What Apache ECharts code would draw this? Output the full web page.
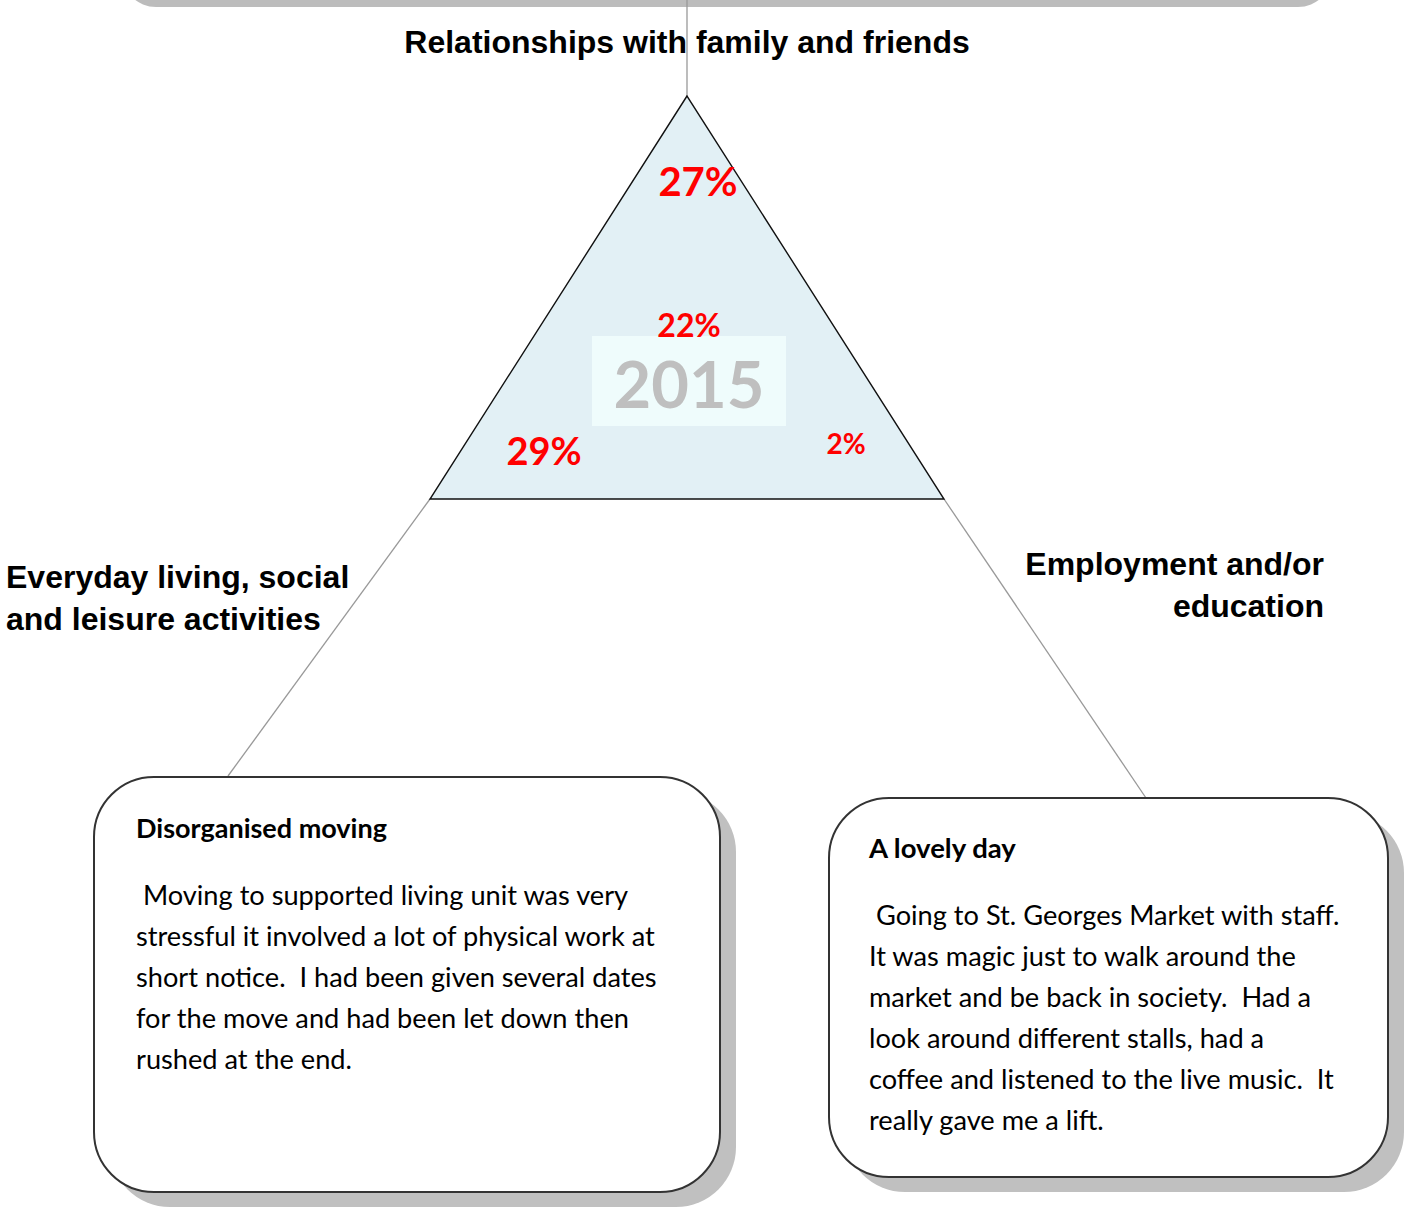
<!DOCTYPE html>
<html>
<head>
<meta charset="utf-8">
<title>2015</title>
<script src="https://cdn.jsdelivr.net/npm/echarts@6/dist/echarts.min.js"></script>
<style>
    html, body { margin: 0; padding: 0; background: #fff; }
    #chart { width: 1404px; height: 1207px; }
</style>
</head>
<body>
<div id="chart"></div>
<script>
    // data
    var year = '2015';
    var domains = ['Relationships with family and friends', 'Everyday living, social\nand leisure activities', 'Employment and/or\neducation'];
    var shares = [27, 22, 29, 2]; // top, centre, left, right
    var storyTitles = ['Disorganised moving', 'A lovely day'];
    var storyLines = [
        [' Moving to supported living unit was very',
            'stressful it involved a lot of physical work at',
            'short notice.  I had been given several dates',
            'for the move and had been let down then',
            'rushed at the end.'],
        [' Going to St. Georges Market with staff.',
            'It was magic just to walk around the',
            'market and be back in society.  Had a',
            'look around different stalls, had a',
            'coffee and listened to the live music.  It',
            'really gave me a lift.']
    ];

    // layout, page units (x right, y down)
    var triangle = [[687, 96], [430, 499], [944, 499]];
    var yearBox = [592, 336, 786, 426];
    var shareSpots = [[698, 181], [689, 324], [544, 450], [846, 443]];
    var shareSizes = [40, 32, 38, 28];
    var domainSpots = [[687, 42, 'center'], [6, 598, 'left'], [1324, 585, 'right']];
    var leaders = [[687, 0, 687, 96], [430, 499, 228, 776], [944, 499, 1146, 798]];
    var boxes = [[94, 777, 720, 1192], [829, 798, 1388, 1177]];
    var boxText = [[136, 827, 874], [869, 847, 894]];
    var titleSizes = [27, 27.5];

    var LABEL_FONT = '"Liberation Sans", Arial, sans-serif';
    var BODY_FONT = 'Lato, Calibri, sans-serif';

    var chart = echarts.init(document.getElementById('chart'), null, {renderer: 'svg'});

    var texts = [];
    domains.forEach(function (d, i) {
        texts.push({x: domainSpots[i][0], y: domainSpots[i][1], text: d, size: 32, weight: 'bold',
            family: LABEL_FONT, color: '#000', align: domainSpots[i][2], va: 'middle', lh: 42});
    });
    shares.forEach(function (v, i) {
        texts.push({x: shareSpots[i][0], y: shareSpots[i][1], text: v + '%', size: shareSizes[i], weight: 'bold',
            family: BODY_FONT, color: '#ff0000', align: 'center', va: 'middle'});
    });
    texts.push({x: (yearBox[0] + yearBox[2]) / 2, y: (yearBox[1] + yearBox[3]) / 2 + 2, text: year, size: 65,
        weight: 'bold', family: BODY_FONT, color: '#bfbfbf', align: 'center', va: 'middle'});
    storyTitles.forEach(function (t, i) {
        texts.push({x: boxText[i][0], y: boxText[i][1], text: t, size: titleSizes[i], weight: 'bold',
            family: BODY_FONT, color: '#000', align: 'left', va: 'middle'});
        texts.push({x: boxText[i][0], y: boxText[i][2], text: storyLines[i].join('\n'), size: 27.2, weight: 'normal',
            family: BODY_FONT, color: '#000', align: 'left', va: 'top', lh: 41});
    });

    chart.setOption({
        animation: false,
        grid: {left: 0, right: 0, top: 0, bottom: 0},
        xAxis: {type: 'value', min: 0, max: 1404, show: false},
        yAxis: {type: 'value', min: 0, max: 1207, inverse: true, show: false},
        series: [
            {
                // shadow of the box above, cut by the page edge
                type: 'custom',
                data: [[122, -120, 1332, 7]],
                renderItem: function (params, api) {
                    var a = api.coord([api.value(0), api.value(1)]);
                    var b = api.coord([api.value(2), api.value(3)]);
                    return {type: 'rect', shape: {x: a[0], y: a[1], width: b[0] - a[0], height: b[1] - a[1], r: 34},
                        style: {fill: '#bcbcbc'}};
                }
            },
            {
                type: 'custom',
                data: leaders,
                renderItem: function (params, api) {
                    var a = api.coord([api.value(0), api.value(1)]);
                    var b = api.coord([api.value(2), api.value(3)]);
                    return {type: 'line', shape: {x1: a[0], y1: a[1], x2: b[0], y2: b[1]},
                        style: {stroke: '#999', lineWidth: 1.3}};
                }
            },
            {
                type: 'custom',
                data: triangle,
                renderItem: function (params, api) {
                    if (params.dataIndex !== 0) return null;
                    var pts = triangle.map(function (p) { return api.coord(p); });
                    var a = api.coord([yearBox[0], yearBox[1]]);
                    var b = api.coord([yearBox[2], yearBox[3]]);
                    return {type: 'group', children: [
                        {type: 'polygon', shape: {points: pts}, style: {fill: '#e2f0f5', stroke: '#111', lineWidth: 1.4}},
                        {type: 'rect', shape: {x: a[0], y: a[1], width: b[0] - a[0], height: b[1] - a[1]},
                            style: {fill: '#effcfc'}}
                    ]};
                }
            },
            {
                type: 'custom',
                data: boxes,
                renderItem: function (params, api) {
                    var a = api.coord([api.value(0), api.value(1)]);
                    var b = api.coord([api.value(2), api.value(3)]);
                    var w = b[0] - a[0], h = b[1] - a[1];
                    return {type: 'group', children: [
                        {type: 'rect', shape: {x: a[0] + 16, y: a[1] + 15, width: w, height: h, r: 60},
                            style: {fill: '#c0c0c0'}},
                        {type: 'rect', shape: {x: a[0], y: a[1], width: w, height: h, r: 60},
                            style: {fill: '#fff', stroke: '#333', lineWidth: 2}}
                    ]};
                }
            },
            {
                type: 'custom',
                data: texts.map(function (t) { return [t.x, t.y]; }),
                renderItem: function (params, api) {
                    var t = texts[params.dataIndex];
                    var p = api.coord([t.x, t.y]);
                    return {type: 'text', x: p[0], y: p[1], style: {
                        text: t.text, fontSize: t.size, fontWeight: t.weight, fontFamily: t.family,
                        fill: t.color, align: t.align, verticalAlign: t.va, lineHeight: t.lh || t.size
                    }};
                }
            }
        ]
    });
</script>
</body>
</html>
